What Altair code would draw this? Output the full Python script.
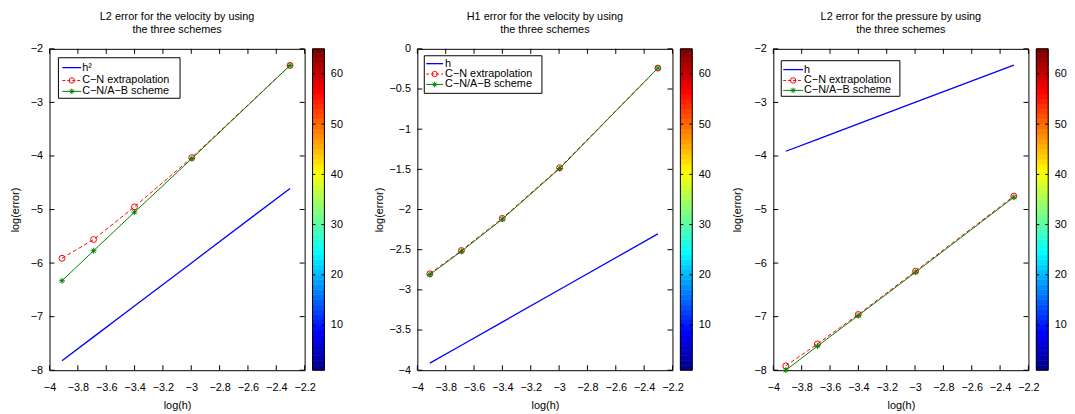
import math
import altair as alt
import pandas as pd

FONT = "Liberation Sans"
W, H = 258, 325
CB_GAP, CB_W = 8, 12
BLUE, RED, GREEN = "#0000ff", "#ff0000", "#008000"
ASTER = "M-1,0L1,0M0,-1L0,1M-0.72,-0.72L0.72,0.72M-0.72,0.72L0.72,-0.72"

# ---------------- data ----------------
log_h = [-3.912, -3.689, -3.401, -2.996, -2.303]
x_ticks = [-4, -3.8, -3.6, -3.4, -3.2, -3, -2.8, -2.6, -2.4, -2.2]
cb_ticks = [10, 20, 30, 40, 50, 60]

titles = [
    ["L2 error for the velocity by using", "the three schemes"],
    ["H1 error for the velocity by using", "the three schemes"],
    ["L2 error for the pressure by using", "the three schemes"],
]
ref_labels = ["h\u00b2", "h", "h"]
cn_label = "C\u2212N extrapolation"
ab_label = "C\u2212N/A\u2212B scheme"

p1_ref = [-7.824, -7.378, -6.802, -5.992, -4.606]
p1_cn = [-5.91, -5.56, -4.95, -4.03, -2.31]
p1_ab = [-6.33, -5.77, -5.05, -4.05, -2.31]
p1_yticks = [-8, -7, -6, -5, -4, -3, -2]

p2_ref = [-3.912, -3.689, -3.401, -2.996, -2.303]
p2_cn = [-2.80, -2.51, -2.11, -1.48, -0.24]
p2_ab = [-2.81, -2.52, -2.12, -1.49, -0.24]
p2_yticks = [-4, -3.5, -3, -2.5, -2, -1.5, -1, -0.5, 0]

p3_ref = [-3.912, -3.689, -3.401, -2.996, -2.303]
p3_cn = [-7.92, -7.51, -6.96, -6.15, -4.75]
p3_ab = [-8.00, -7.55, -6.98, -6.17, -4.77]
p3_yticks = [-8, -7, -6, -5, -4, -3, -2]


def jet(m=64):
    n = math.ceil(m / 4)
    u = [i / n for i in range(1, n + 1)] + [1.0] * (n - 1) + [i / n for i in range(n, 0, -1)]
    g0 = math.ceil(n / 2) - (1 if m % 4 == 1 else 0)
    cols = [[0.0, 0.0, 0.0] for _ in range(m)]
    for k, val in enumerate(u):
        g = g0 + k + 1
        for ch, idx in ((0, g + n), (1, g), (2, g - n)):
            if 1 <= idx <= m:
                cols[idx - 1][ch] = val
    return ["#%02x%02x%02x" % tuple(int(round(c * 255)) for c in col) for col in cols]


jet_colors = jet(64)
cb_df = pd.DataFrame({
    "v0": list(range(1, 65)),
    "v1": list(range(2, 66)),
    "c": jet_colors,
})


def legend_layers(ref_lab, bx0, bx1, by0, by1, rows, lx0, lx1, tx):
    one = pd.DataFrame({"k": [0]})
    layers = [
        alt.Chart(one).mark_rect(fill="white", stroke="black", strokeWidth=1).encode(
            x=alt.value(bx0), x2=alt.value(bx1), y=alt.value(by0), y2=alt.value(by1))
    ]
    entries = [
        (ref_lab, BLUE, None, None, 1.3),
        (cn_label, RED, [3, 2], "circle", 1),
        (ab_label, GREEN, None, ASTER, 1),
    ]
    for (lab, col, dash, shape, sw), ry in zip(entries, rows):
        d = pd.DataFrame({"label": [lab]})
        rule_kw = dict(color=col, strokeWidth=sw)
        if dash:
            rule_kw["strokeDash"] = dash
        layers.append(alt.Chart(d).mark_rule(**rule_kw).encode(
            x=alt.value(lx0), x2=alt.value(lx1), y=alt.value(ry)))
        if shape:
            layers.append(alt.Chart(d).mark_point(shape=shape, color=col, filled=False,
                                                  size=30, strokeWidth=1, opacity=1).encode(
                x=alt.value((lx0 + lx1) / 2), y=alt.value(ry)))
        layers.append(alt.Chart(d).mark_text(align="left", baseline="middle", font=FONT,
                                             fontSize=11, color="black").encode(
            x=alt.value(tx), y=alt.value(ry), text="label:N"))
    return layers


def panel(title, ref_lab, ref, cn, ab, ylo, yhi, yticks, leg, ytp):
    df = pd.DataFrame({"x": log_h, "ref": ref, "cn": cn, "ab": ab})
    xs = alt.Scale(domain=[-4, -2.2], nice=False, zero=False)
    ys = alt.Scale(domain=[ylo, yhi], nice=False, zero=False)
    xaxis = alt.Axis(values=x_ticks, format="~g", labelPadding=12, titlePadding=7,
                     labelOverlap=False, labelFlush=False)
    yaxis = alt.Axis(values=yticks, format="~g", labelPadding=7, titlePadding=ytp,
                     labelOverlap=False, labelFlush=False)

    def X(f="x"):
        return alt.X(f + ":Q", scale=xs, title="log(h)", axis=xaxis)

    def Y(f):
        return alt.Y(f + ":Q", scale=ys, title="log(error)", axis=yaxis)

    base = alt.Chart(df)
    ref_line = base.mark_line(color=BLUE, strokeWidth=1.3).encode(x=X(), y=Y("ref"))
    cn_line = base.mark_line(color=RED, strokeWidth=1, strokeDash=[4, 2.5]).encode(x=X(), y=Y("cn"))
    cn_pts = base.mark_point(shape="circle", color=RED, filled=False, size=36,
                             strokeWidth=1, opacity=1).encode(x=X(), y=Y("cn"))
    ab_line = base.mark_line(color=GREEN, strokeWidth=1).encode(x=X(), y=Y("ab"))
    ab_pts = base.mark_point(shape=ASTER, color=GREEN, filled=False, size=36,
                             strokeWidth=1, opacity=1).encode(x=X(), y=Y("ab"))

    xt = alt.Chart(pd.DataFrame({"t": x_ticks}))
    yt = alt.Chart(pd.DataFrame({"t": yticks}))
    TL = 5
    ticks = [
        xt.mark_rule(color="black", strokeWidth=1).encode(x=X("t"), y=alt.value(H), y2=alt.value(H - TL)),
        xt.mark_rule(color="black", strokeWidth=1).encode(x=X("t"), y=alt.value(0), y2=alt.value(TL)),
        yt.mark_rule(color="black", strokeWidth=1).encode(y=Y("t"), x=alt.value(0), x2=alt.value(TL)),
        yt.mark_rule(color="black", strokeWidth=1).encode(y=Y("t"), x=alt.value(W - TL), x2=alt.value(W)),
    ]

    main = alt.layer(ref_line, cn_line, cn_pts, ab_line, ab_pts, *ticks,
                     *legend_layers(ref_lab, *leg))

    cbs = alt.Scale(domain=[1, 65], nice=False, zero=False)
    cbaxis = alt.Axis(orient="right", values=cb_ticks, offset=CB_GAP + CB_W, labelPadding=6,
                      labelFlush=False)

    def CY(f):
        return alt.Y(f + ":Q", scale=cbs, title="", axis=cbaxis)

    cx0, cx1 = W + CB_GAP, W + CB_GAP + CB_W
    cb = alt.Chart(cb_df).mark_rect(strokeWidth=0.6).encode(
        x=alt.value(cx0), x2=alt.value(cx1),
        y=CY("v0"), y2="v1:Q",
        color=alt.Color("c:N", scale=None),
        stroke=alt.Stroke("c:N", scale=None),
    )
    ct = alt.Chart(pd.DataFrame({"t": cb_ticks}))
    cb_t1 = ct.mark_rule(color="black").encode(y=CY("t"), x=alt.value(cx0), x2=alt.value(cx0 + 3))
    cb_t2 = ct.mark_rule(color="black").encode(y=CY("t"), x=alt.value(cx1 - 3), x2=alt.value(cx1))
    cb_border = alt.Chart(pd.DataFrame({"k": [0]})).mark_rect(
        fillOpacity=0, stroke="black", strokeWidth=1).encode(
        x=alt.value(cx0), x2=alt.value(cx1), y=alt.value(0), y2=alt.value(H))
    bar = alt.layer(cb, cb_t1, cb_t2, cb_border)

    return alt.layer(main, bar).resolve_scale(y="independent").properties(
        width=W, height=H,
        title=alt.TitleParams(text=title, fontSize=11, fontWeight="normal", font=FONT,
                              color="black", anchor="middle", frame="group",
                              offset=8, lineHeight=13),
    )


leg1 = (9, 132, 9, 50, [19, 32, 43], 13, 32, 33)
leg2 = (7, 126, 7, 45, [15, 25.5, 36], 9, 26, 28)
leg3 = (8, 128, 12, 48, [21, 32, 42], 10, 30, 31)

c1 = panel(titles[0], ref_labels[0], p1_ref, p1_cn, p1_ab, -8, -2, p1_yticks, leg1, 10)
c2 = panel(titles[1], ref_labels[1], p2_ref, p2_cn, p2_ab, -4, 0, p2_yticks, leg2, 5)
c3 = panel(titles[2], ref_labels[2], p3_ref, p3_cn, p3_ab, -8, -2, p3_yticks, leg3, 12)

chart = alt.hconcat(alt.hconcat(c1, c2, spacing=29), c3, spacing=19).properties(
    padding={"left": 0, "top": 0, "right": 0, "bottom": 0}
).configure_view(stroke="black", strokeWidth=1).configure_axis(
    labelFont=FONT, labelFontSize=11, labelColor="black",
    titleFont=FONT, titleFontSize=11, titleFontWeight="normal", titleColor="black",
    ticks=False, tickSize=0, domain=False, grid=False,
)

chart.save("out.html", embed_options={"renderer": "svg", "actions": False})
